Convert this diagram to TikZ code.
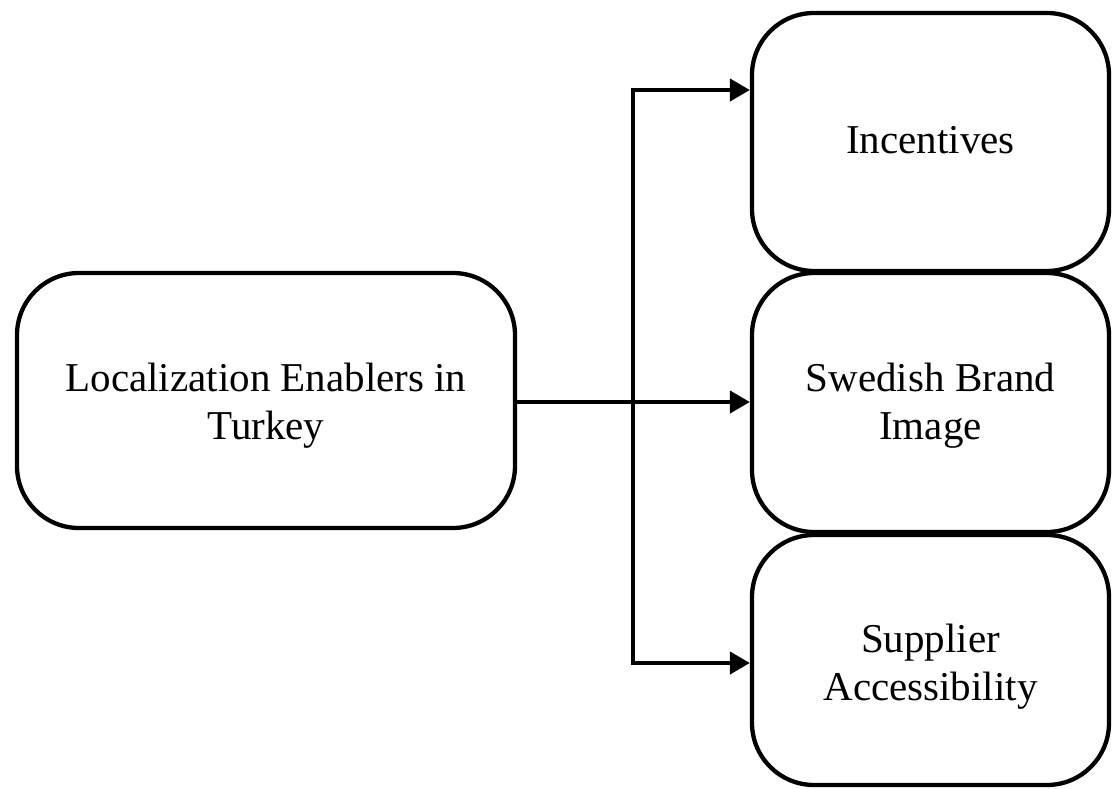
\documentclass[tikz,border=0pt]{standalone}
\usepackage{fontspec}
\setmainfont{Liberation Serif}
\usetikzlibrary{arrows.meta}
\begin{document}
\begin{tikzpicture}[x=1pt,y=-1pt,
  box/.style={draw, line width=4.3pt, rounded corners=62pt, align=center,
    inner sep=0pt, text depth=0pt, font=\fontsize{41}{47.3}\selectfont},
  link/.style={line width=4.3pt, -{Triangle[length=20pt,width=22pt]}}]
\useasboundingbox (0,0) rectangle (1112,789);
% source box
\node[box, minimum width=498pt, minimum height=255pt, text height=77pt]
  (loc) at (266,400.5) {Localization Enablers in\\Turkey};
% target boxes
\node[box, minimum width=357pt, minimum height=258pt, text height=22.6pt]
  (inc) at (930.5,142) {Incentives};
\node[box, minimum width=357pt, minimum height=259pt, text height=73pt]
  (swe) at (930.5,402.5) {Swedish Brand\\Image};
\node[box, minimum width=357pt, minimum height=250pt, text height=80pt]
  (sup) at (930.5,660) {Supplier\\Accessibility};
% branching connector
\coordinate (top) at (633,90);
\coordinate (bot) at (633,663);
\draw[link] (loc.east |- 0,402) -- (swe.west |- 0,402);
\draw[link] (bot) -- (top) -- (top -| inc.west);
\draw[link] (top) -- (bot) -- (bot -| sup.west);
\end{tikzpicture}
\end{document}
